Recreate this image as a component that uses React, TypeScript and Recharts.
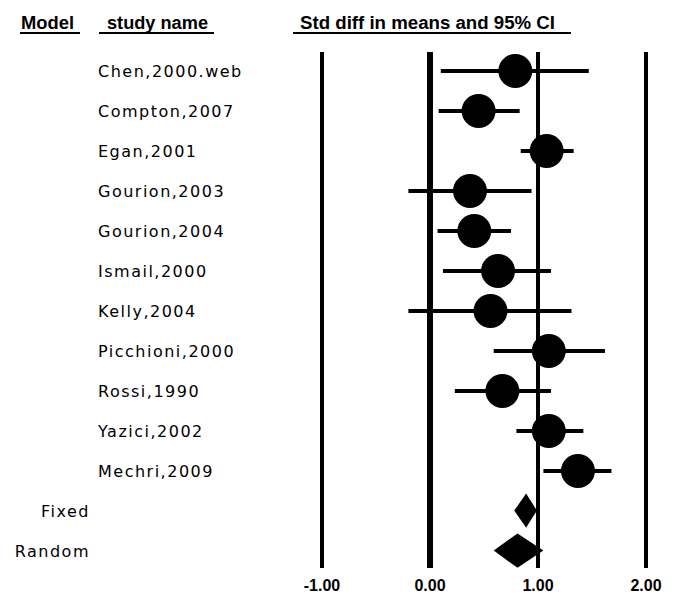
import { ScatterChart, Scatter, XAxis, YAxis, ReferenceLine, ReferenceArea, ErrorBar } from 'recharts';

const STUDIES = [
  'Chen,2000.web',
  'Compton,2007',
  'Egan,2001',
  'Gourion,2003',
  'Gourion,2004',
  'Ismail,2000',
  'Kelly,2004',
  'Picchioni,2000',
  'Rossi,1990',
  'Yazici,2002',
  'Mechri,2009',
];
const EST = [0.79, 0.45, 1.08, 0.37, 0.41, 0.63, 0.56, 1.1, 0.67, 1.1, 1.37];
const LOW = [0.1, 0.08, 0.84, -0.2, 0.07, 0.12, -0.2, 0.59, 0.23, 0.8, 1.05];
const HIGH = [1.47, 0.83, 1.33, 0.94, 0.75, 1.12, 1.31, 1.62, 1.12, 1.42, 1.68];

const MODELS = ['Fixed', 'Random'];
const MODEL_EST = [0.89, 0.81];
const MODEL_LOW = [0.78, 0.59];
const MODEL_HIGH = [0.99, 1.05];

const X_TICKS = [-1, 0, 1, 2];

const ROW_LABELS = [...STUDIES, ...MODELS];
const ROWS = ROW_LABELS.map((_, i) => i);

const studyData = STUDIES.map((name, i) => ({
  name,
  row: i,
  est: EST[i],
  err: [EST[i] - LOW[i], HIGH[i] - EST[i]],
}));

const FONT = '"Liberation Sans", Arial, sans-serif';

const RowTick = (props: any) => {
  const { y, payload } = props;
  const i = payload.value as number;
  const isModel = i >= STUDIES.length;
  return (
    <text
      x={isModel ? 90 : 98}
      y={y + 6}
      textAnchor={isModel ? 'end' : 'start'}
      fontFamily='"DejaVu Sans", sans-serif'
      fontSize={16}
      letterSpacing={1.5}
      fill="#000"
    >
      {ROW_LABELS[i]}
    </text>
  );
};

const ValueTick = (props: any) => {
  const { x, y, payload } = props;
  return (
    <text x={x} y={y + 15} textAnchor="middle" fontFamily={FONT} fontWeight="bold" fontSize={16} fill="#000">
      {payload.value.toFixed(2)}
    </text>
  );
};

// diamond spanning the CI; its middle vertex sits at the pooled estimate
const makeDiamond = (est: number, lo: number, hi: number) => (props: any) => {
  const { x, y, width, height } = props;
  const mx = x + (width * (est - lo)) / (hi - lo);
  const my = y + height / 2;
  return <polygon points={`${x},${my} ${mx},${y} ${x + width},${my} ${mx},${y + height}`} fill="#000" />;
};

export default function App() {
  return (
    <div style={{ position: 'absolute', left: 0, top: 0, width: 676, height: 604, background: '#fff' }}>
      <ScatterChart width={676} height={604} margin={{ top: 52, right: 30, bottom: 0, left: 0 }}>
        <XAxis
          type="number"
          dataKey="est"
          domain={[-1, 2]}
          ticks={X_TICKS}
          axisLine={false}
          tickLine={false}
          height={36}
          tick={<ValueTick />}
        />
        <YAxis
          type="number"
          dataKey="row"
          domain={[-0.475, 12.425]}
          reversed
          allowDataOverflow
          ticks={ROWS}
          interval={0}
          axisLine={false}
          tickLine={false}
          width={322}
          tick={<RowTick />}
        />
        {X_TICKS.map((v) => (
          <ReferenceLine key={v} x={v} stroke="#000" strokeWidth={v === 0 ? 6 : 4} />
        ))}
        {MODELS.map((m, i) => (
          <ReferenceArea
            key={m}
            x1={MODEL_LOW[i]}
            x2={MODEL_HIGH[i]}
            y1={STUDIES.length + i - 0.44}
            y2={STUDIES.length + i + 0.42}
            ifOverflow="visible"
            shape={makeDiamond(MODEL_EST[i], MODEL_LOW[i], MODEL_HIGH[i])}
          />
        ))}
        <Scatter
          data={studyData}
          isAnimationActive={false}
          shape={(p: any) => <circle cx={p.cx} cy={p.cy} r={17} fill="#000" />}
        >
          <ErrorBar dataKey="err" direction="x" width={0} stroke="#000" strokeWidth={4} />
        </Scatter>
      </ScatterChart>
      <svg width={676} height={604} style={{ position: 'absolute', left: 0, top: 0, pointerEvents: 'none' }}>
        <g fontFamily={FONT} fontWeight="bold" fontSize={18} fill="#000">
          <text x={21} y={29} textLength={53} lengthAdjust="spacingAndGlyphs">Model</text>
          <text x={107} y={29} textLength={101} lengthAdjust="spacingAndGlyphs">study name</text>
          <text x={300} y={29} textLength={255} lengthAdjust="spacingAndGlyphs">Std diff in means and 95% CI</text>
        </g>
        <g stroke="#000" strokeWidth={2}>
          <line x1={20} x2={80} y1={33} y2={33} />
          <line x1={99} x2={214} y1={33} y2={33} />
          <line x1={293} x2={571} y1={33} y2={33} />
        </g>
      </svg>
    </div>
  );
}
